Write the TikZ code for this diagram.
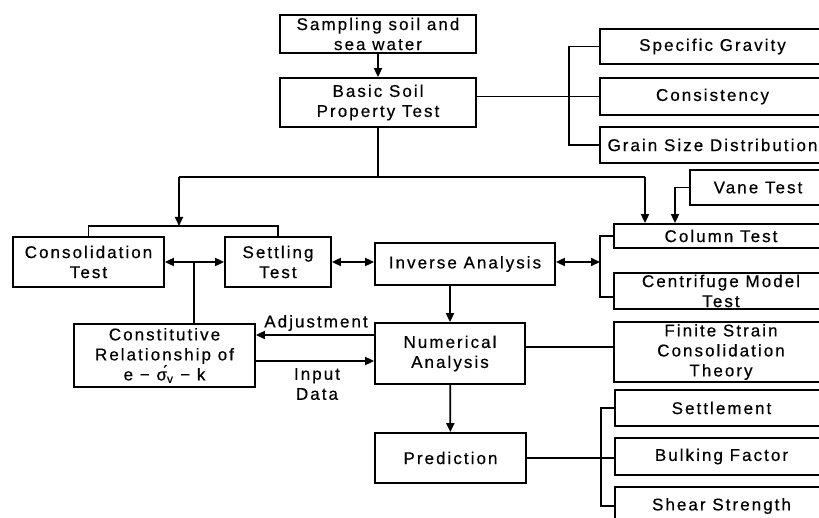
\documentclass[tikz,border=0pt]{standalone}
\usepackage{fontspec}
\newfontfamily\diafont{Liberation Sans}[LetterSpace=12,FakeBold=0.5]
\usetikzlibrary{arrows.meta}
\begin{document}
\begin{tikzpicture}[x=1pt,y=-1pt,
  box/.style={draw,line width=1.8pt,inner sep=0pt,align=center,font=\diafont\fontsize{17}{20}\selectfont},
  lbl/.style={inner sep=0pt,align=center,font=\diafont\fontsize{17}{20}\selectfont},
  ln/.style={line width=1.8pt},
  arr/.style={ln,-{Triangle[length=9pt,width=8pt]}},
  arr2/.style={ln,{Triangle[length=9pt,width=8pt]}-{Triangle[length=9pt,width=8pt]}}]
\useasboundingbox (0,0) rectangle (819,518);
\clip (0,0) rectangle (819,518);
% boxes
\node[box,minimum width=196pt,minimum height=38pt] (samp) at (378,34) {Sampling soil and\\sea water};
\node[box,minimum width=196pt,minimum height=49pt] (basic) at (378,102.5) {Basic Soil\\Property Test};
\node[box,minimum width=225pt,minimum height=35pt] (spec) at (712.5,46.5) {Specific Gravity};
\node[box,minimum width=225pt,minimum height=37pt] (consist) at (712.5,96.5) {Consistency};
\node[box,minimum width=225pt,minimum height=36pt] (grain) at (712.5,145) {Grain Size Distribution};
\node[box,minimum width=136pt,minimum height=35pt] (vane) at (758,187.5) {Vane Test};
\node[box,minimum width=214pt,minimum height=24pt] (column) at (721,236) {Column Test};
\node[box,minimum width=214pt,minimum height=36pt] (centri) at (721,291) {Centrifuge Model\\Test};
\node[box,minimum width=214pt,minimum height=60pt] (finite) at (721,352) {Finite Strain\\Consolidation\\Theory};
\node[box,minimum width=213pt,minimum height=36pt] (settle) at (721.5,408) {Settlement};
\node[box,minimum width=213pt,minimum height=37pt] (bulk) at (721.5,456.5) {Bulking Factor};
\node[box,minimum width=213pt,minimum height=38pt] (shear) at (721.5,506) {Shear Strength};
\node[box,minimum width=151pt,minimum height=50pt] (consol) at (88.5,262) {Consolidation\\Test};
\node[box,minimum width=106pt,minimum height=50pt] (settling) at (278,262) {Settling\\Test};
\node[box,minimum width=180pt,minimum height=42pt] (inverse) at (465,264) {Inverse Analysis};
\node[box,minimum width=150pt,minimum height=61pt] (numer) at (450,353.5) {Numerical\\Analysis};
\node[box,minimum width=151pt,minimum height=50pt] (predict) at (450.5,458) {Prediction};
\node[box,minimum width=181pt,minimum height=63pt] (const) at (164.5,355.5) {Constitutive\\Relationship of\\e − σ́\textsubscript{v} − k};
% labels
\node[lbl] (adj) at (316,323) {Adjustment};
\node[lbl] (inp) at (317,384) {Input\\Data};
% helper coordinates
\coordinate (jL) at (179,177);
\coordinate (jR) at (645,177);
\coordinate (bT) at (179,226);
\coordinate (gx) at (569,0);
\coordinate (vx) at (675,0);
\coordinate (cx) at (194,262);
\coordinate (rx) at (600,262);
\coordinate (px) at (601,0);
% connectors
\draw[arr] (samp) -- (basic);
\draw[ln] (basic.south) -- (basic.south |- jL);
\draw[ln] (jL) -- (jR);
\draw[arr] (jL) -- (bT);
\draw[ln] (consol.north) |- (bT) -| (settling.north);
\draw[arr] (jR) -- (jR |- column.north);
\draw[ln] (basic.east |- consist.west) -- (consist.west);
\draw[ln] (spec.west) -| (gx |- grain.west) -- (grain.west);
\draw[arr] (vane.west) -| (vx |- column.north);
\draw[arr2] (consol.east) -- (settling.west);
\draw[ln] (cx) -- (cx |- const.north);
\draw[arr2] (settling.east) -- (settling.east -| inverse.west);
\draw[arr2] (inverse.east |- rx) -- (rx);
\draw[ln] (column.west) -| (rx) |- ([yshift=-6pt]centri.west);
\draw[arr] (inverse.south -| numer.north) -- (numer.north);
\draw[arr] (numer) -- (predict);
\draw[ln] ([yshift=6.5pt]numer.east) -- ([yshift=6.5pt]numer.east -| finite.west);
\draw[arr] ([yshift=18.5pt]numer.west) -- ([yshift=18.5pt]numer.west -| const.east);
\draw[arr] ([yshift=-7.5pt]numer.west -| const.east) -- ([yshift=-7.5pt]numer.west);
\draw[ln] (predict.east) -- (predict.east -| bulk.west);
\draw[ln] (settle.west) -| (px |- shear.west) -- (shear.west);
\end{tikzpicture}
\end{document}
